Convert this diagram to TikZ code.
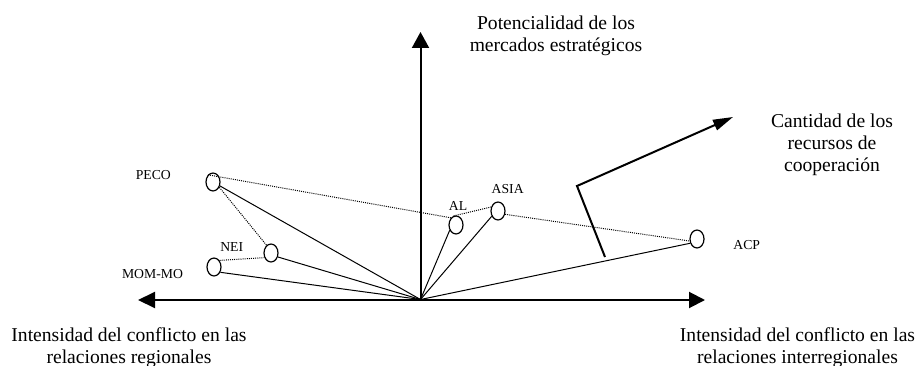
\documentclass[tikz,border=0pt]{standalone}
\usepackage{fontspec}
\setmainfont{Liberation Serif}
\usetikzlibrary{arrows.meta,shapes.geometric}
\begin{document}
\begin{tikzpicture}[x=1pt,y=-1pt,
  blob/.style={draw,ellipse,minimum width=14pt,minimum height=18pt,inner sep=0pt,line width=1.2pt},
  lab/.style={font=\fontsize{13.7}{15}\selectfont,inner sep=0pt},
  big/.style={font=\fontsize{19.6}{22}\selectfont,align=center,inner sep=0pt},
  axisline/.style={line width=2pt},
  bigtip/.style={-{Triangle[length=16pt,width=17pt]}},
  link/.style={line width=1pt},
  dots/.style={line width=1pt,dash pattern=on 1pt off 1.1pt},
]
\useasboundingbox (0,0) rectangle (917,366);
% axes
\coordinate (O) at (420.5,299.5);
\coordinate (T) at (420.5,32);
\coordinate (L) at (138,300);
\coordinate (R) at (705,300);
\coordinate (C1) at (605,257);
\coordinate (C2) at (577,186);
\coordinate (C3) at (733,117);
\draw[axisline,{Triangle[length=17pt,width=16pt]}-{Triangle[length=16pt,width=16pt]}] (L) -- (R);
\draw[axisline,bigtip] (O) -- (T);
\draw[axisline,-{Triangle[length=20pt,width=11pt]}] (C1) -- (C2) -- (C3);
% ellipses
\node[blob] (peco) at (213,182) {};
\node[blob] (nei) at (271,253) {};
\node[blob] (mom) at (214,267) {};
\node[blob] (al) at (456,225) {};
\node[blob] (asia) at (498,211) {};
\node[blob] (acp) at (697,239) {};
% labels
\node[lab] (lpeco) at (153.3,175) {PECO};
\node[lab] (lnei) at (231.7,246.7) {NEI};
\node[lab] (lmom) at (152.5,274) {MOM-MO};
\node[lab] (lal) at (458,206) {AL};
\node[lab] (lasia) at (507.7,189.5) {ASIA};
\node[lab] (lacp) at (746.7,245) {ACP};
% solid links
\draw[link] (peco) -- (O);
\draw[link] (nei.-30) -- (O);
\draw[link] (mom.-40) -- (O);
\draw[link] (al.220) -- (O);
\draw[link] (asia.220) -- (O);
\draw[link] (acp.212) -- (O);
% dotted links
\draw[dots] (peco.125) -- (al.125);
\draw[dots] (al.105) -- (asia.150);
\draw[dots] (asia.-25) -- (acp.195);
\draw[dots] (peco.-40) -- (nei.120);
\draw[dots] (mom.50) -- (nei.215);
% big texts
\node[big] (tpot) at (556,35.5) {Potencialidad de los\\mercados estratégicos};
\node[big] (tcan) at (832,145.2) {Cantidad de los\\recursos de\\cooperación};
\node[big] (treg) at (129,347.8) {Intensidad del conflicto en las\\relaciones regionales};
\node[big] (tint) at (797.5,347.8) {Intensidad del conflicto en las\\relaciones interregionales};
\end{tikzpicture}
\end{document}
